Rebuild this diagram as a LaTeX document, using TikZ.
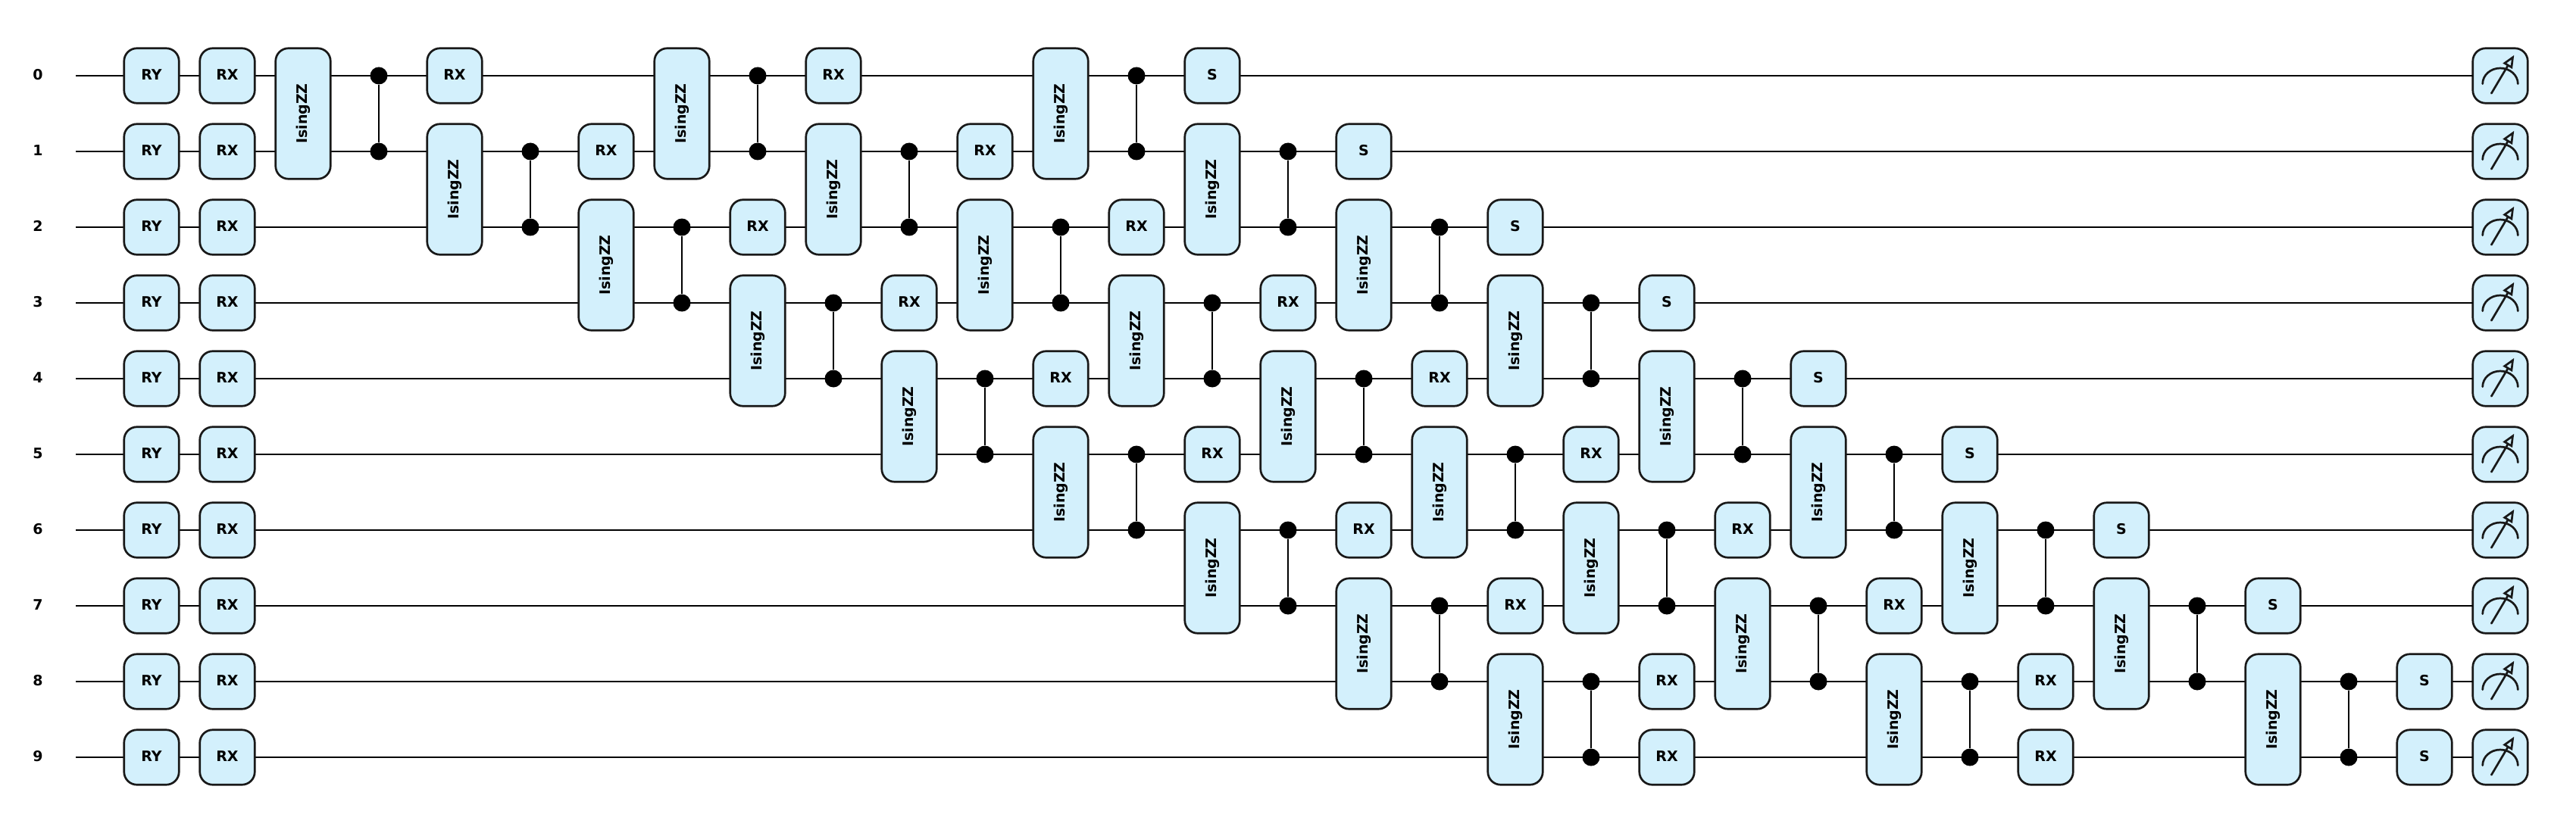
\documentclass[tikz,border=0pt]{standalone}
\usepackage{fontspec}
\setmainfont{DejaVu Sans}
\usepackage{xcolor}
\usetikzlibrary{arrows.meta}
\definecolor{gatefill}{HTML}{D3F0FC}
\begin{document}
\begin{tikzpicture}[x=1cm, y=-1cm, every node/.style={font=\fontsize{5.4}{6.5}\selectfont\bfseries}, wire/.style={line width=0.022cm}, qlabel/.style={inner sep=0pt, text depth=1pt}, gate/.style={draw=black!90, line width=0.027cm, fill=gatefill, rounded corners=0.17cm, align=center, inner sep=0pt, outer sep=0pt, text depth=1pt, minimum width=0.725cm, minimum height=0.725cm}, zzgate/.style={gate, rotate=90, text depth=, minimum width=1.725cm}, ctrl/.style={circle, fill=black, inner sep=0pt, minimum size=0.23cm}, meter/.style={draw=black!90, line width=0.027cm, line cap=round}]
\useasboundingbox (0,0) rectangle (34,11);
\foreach \q in {0,...,9} {
  \node[qlabel] (lbl\q) at (0.5,\q+1) {\q};
  \coordinate (in\q) at (1,\q+1);
  \node[gate] (meas\q) at (33,\q+1) {};
  \draw[wire] (in\q) -- (meas\q);
  \node[gate] (ry\q) at (2,\q+1) {RY};
  \node[gate] (rx\q) at (3,\q+1) {RX};
  \begin{scope}[shift={(meas\q.center)}]
    \draw[meter] (-0.233,0.107) arc[start angle=180, end angle=360, x radius=0.233, y radius=0.207];
    \draw[meter, -{Triangle[open, fill=gatefill, length=0.17cm, width=0.14cm]}] (-0.117,0.233) -- (0.183,-0.273);
  \end{scope}
}
\foreach \ly/\off in {a/4,b/9,c/14} {
  \foreach \q [evaluate=\q as \r using int(\q+1)] in {0,...,8} {
    \node[zzgate] (zz\ly\q) at ({\off+2*\q},\q+1.5) {IsingZZ};
    \node[ctrl] (top\ly\q) at ({\off+1+2*\q},\q+1) {};
    \node[ctrl] (bot\ly\q) at ({\off+1+2*\q},\r+1) {};
    \draw[wire] (top\ly\q) -- (bot\ly\q);
  }
}
\foreach \ly/\off/\txt in {a/6/RX,b/11/RX,c/16/S} {
  \foreach \q [evaluate=\q as \c using {int(\off+2*min(\q,8))}] in {0,...,9} {
    \node[gate] (one\ly\q) at (\c,\q+1) {\txt};
  }
}
\end{tikzpicture}
\end{document}
